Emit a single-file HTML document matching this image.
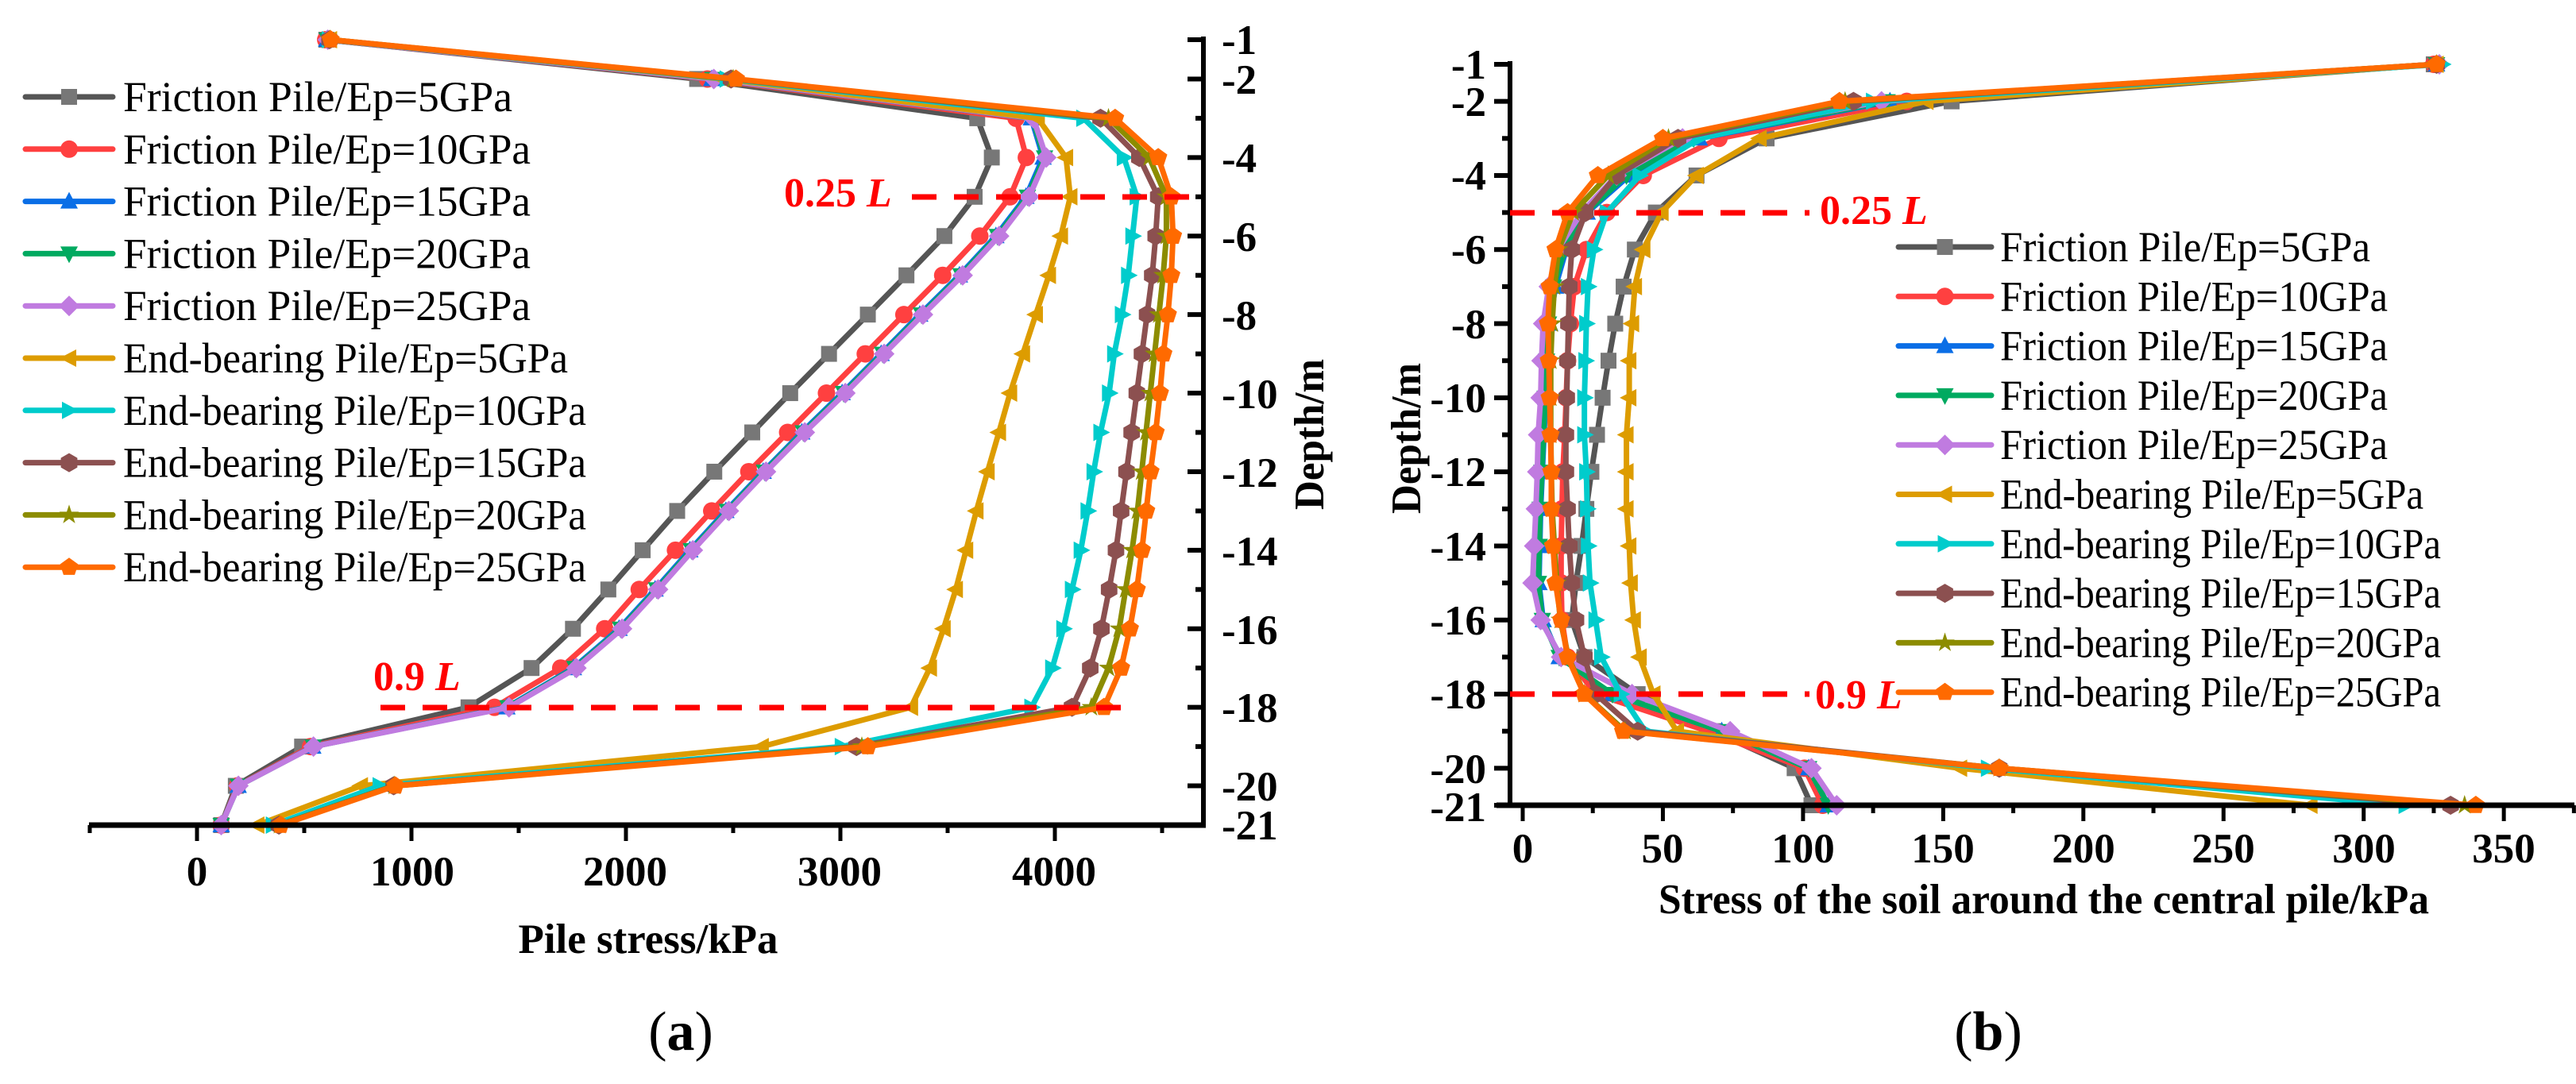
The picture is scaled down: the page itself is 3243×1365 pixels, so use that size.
<!DOCTYPE html>
<html><head><meta charset="utf-8"><style>
html,body{margin:0;padding:0;background:#fff;}
svg, svg text, svg tspan{font-family:"Liberation Serif","Times New Roman","DejaVu Serif",serif !important;}
</style></head><body>
<svg id="s" width="3243" height="1360" viewBox="0 0 3243 1360" xmlns="http://www.w3.org/2000/svg" font-family="Liberation Serif, Times New Roman, serif">
<rect width="3243" height="1360" fill="#fff"/>
<g id="g"></g>
<line x1="112" y1="1039" x2="1518" y2="1039" stroke="#000" stroke-width="7"/>
<line x1="1515" y1="46" x2="1515" y2="1042" stroke="#000" stroke-width="6"/>
<line x1="1884" y1="1014" x2="3241" y2="1014" stroke="#000" stroke-width="7"/>
<line x1="1901" y1="77" x2="1901" y2="1017" stroke="#000" stroke-width="6"/>
<g font-weight="bold" font-size="53" fill="#000" font-family="Liberation Serif, serif">
<text x="1538" y="68">-1</text><text x="1538" y="118">-2</text>
<text x="1538" y="217">-4</text><text x="1538" y="316">-6</text><text x="1538" y="415">-8</text>
<text x="1538" y="514">-10</text><text x="1538" y="613">-12</text><text x="1538" y="712">-14</text>
<text x="1538" y="811">-16</text><text x="1538" y="909">-18</text><text x="1538" y="1008">-20</text>
<text x="1538" y="1057">-21</text>
<g text-anchor="middle">
<text x="248" y="1115">0</text><text x="519" y="1115">1000</text><text x="787" y="1115">2000</text>
<text x="1057" y="1115">3000</text><text x="1327" y="1115">4000</text>
<text x="816" y="1200" textLength="327" lengthAdjust="spacingAndGlyphs">Pile stress/kPa</text>
<text transform="translate(1666,547) rotate(-90)" textLength="190" lengthAdjust="spacingAndGlyphs">Depth/m</text>
<text transform="translate(1788,552) rotate(-90)" textLength="190" lengthAdjust="spacingAndGlyphs">Depth/m</text>
<text x="1917" y="1086">0</text><text x="2093" y="1086">50</text><text x="2270" y="1086">100</text>
<text x="2446" y="1086">150</text><text x="2623" y="1086">200</text><text x="2799" y="1086">250</text>
<text x="2976" y="1086">300</text><text x="3152" y="1086">350</text>
<text x="2573" y="1150" textLength="970" lengthAdjust="spacingAndGlyphs">Stress of the soil around the central pile/kPa</text>
</g>
<g text-anchor="end">
<text x="1871" y="99">-1</text><text x="1871" y="146">-2</text><text x="1871" y="239">-4</text>
<text x="1871" y="332">-6</text><text x="1871" y="426">-8</text><text x="1871" y="519">-10</text>
<text x="1871" y="612">-12</text><text x="1871" y="706">-14</text><text x="1871" y="799">-16</text>
<text x="1871" y="892">-18</text><text x="1871" y="986">-20</text><text x="1871" y="1034">-21</text>
</g>
</g>
<text x="857" y="1322" font-size="70" text-anchor="middle" font-family="Liberation Serif, serif">(<tspan font-weight="bold">a</tspan>)</text>
<text x="2503" y="1322" font-size="70" text-anchor="middle" font-family="Liberation Serif, serif">(<tspan font-weight="bold">b</tspan>)</text>
<g stroke="#f00" stroke-width="7" stroke-dasharray="31 22">
<line x1="1148" y1="248" x2="1515" y2="248"/>
<line x1="479" y1="891" x2="1419" y2="891"/>
<line x1="1901" y1="268" x2="2278" y2="268"/>
<line x1="1901" y1="874" x2="2278" y2="874"/>
</g>
<g fill="#f00" font-weight="bold" font-size="52" font-family="Liberation Serif, serif">
<text x="987" y="260">0.25 <tspan font-style="italic">L</tspan></text>
<text x="470" y="869">0.9 <tspan font-style="italic">L</tspan></text>
<text x="2291" y="282">0.25 <tspan font-style="italic">L</tspan></text>
<text x="2285" y="892">0.9 <tspan font-style="italic">L</tspan></text>
</g>
<g id="leg" font-size="54" font-family="Liberation Serif, serif"></g>
</svg>
<script>
var NS="http://www.w3.org/2000/svg";
function el(p,t,a){var e=document.createElementNS(NS,t);for(var k in a)e.setAttribute(k,a[k]);p.appendChild(e);return e;}
var svg=document.getElementById('s'), G=document.getElementById('g');
for(var k=1;k<=21;k++){var y=50+(k-1)*49.45;var maj=(k==1||k==21||k%2==0);el(svg,'line',{x1:1515-(maj?20:10),y1:y,x2:1515,y2:y,stroke:'#000','stroke-width':6});}
for(var v=-500;v<=4500;v+=500){var x=248+v*0.270;var maj=(v%1000==0);el(svg,'line',{x1:x,y1:1039,x2:x,y2:1039+(maj?20:10),stroke:'#000','stroke-width':5});}
for(var k=1;k<=21;k++){var y=81+(k-1)*46.65;var maj=(k==1||k==21||k%2==0);el(svg,'line',{x1:1901-(maj?20:10),y1:y,x2:1901,y2:y,stroke:'#000','stroke-width':6});}
for(var v=0;v<=375;v+=25){var x=1917+v*3.529;var maj=(v%50==0);el(svg,'line',{x1:x,y1:1014,x2:x,y2:1014+(maj?20:10),stroke:'#000','stroke-width':5});}

var S=[
 {n:"Friction Pile/Ep=5GPa",c:"#555",mc:"#777",m:"sq"},
 {n:"Friction Pile/Ep=10GPa",c:"#ff4040",m:"ci"},
 {n:"Friction Pile/Ep=15GPa",c:"#0a6ee6",m:"tu"},
 {n:"Friction Pile/Ep=20GPa",c:"#00aa60",m:"td"},
 {n:"Friction Pile/Ep=25GPa",c:"#c07be0",m:"di"},
 {n:"End-bearing Pile/Ep=5GPa",c:"#dd9c00",m:"tl"},
 {n:"End-bearing Pile/Ep=10GPa",c:"#00cccc",m:"tr"},
 {n:"End-bearing Pile/Ep=15GPa",c:"#8c5050",m:"hx"},
 {n:"End-bearing Pile/Ep=20GPa",c:"#8c8c00",m:"st"},
 {n:"End-bearing Pile/Ep=25GPa",c:"#ff6a00",m:"pe"}];
var A=[
[603,2332,3638,3706,3626,3485,3308,3128,2947,2766,2589,2412,2239,2078,1918,1753,1560,1266,490,181,113],
[600,2380,3819,3867,3791,3650,3477,3296,3116,2935,2754,2573,2400,2231,2062,1901,1696,1387,530,189,113],
[605,2400,3890,3945,3865,3725,3555,3370,3190,3008,2820,2640,2466,2298,2136,1968,1755,1445,540,192,113],
[608,2405,3895,3952,3872,3732,3562,3378,3197,3015,2827,2646,2473,2305,2143,1975,1762,1450,542,193,113],
[610,2410,3900,3960,3880,3740,3570,3385,3204,3023,2834,2653,2480,2312,2150,1982,1769,1455,543,193,113],
[620,2450,3920,4052,4072,4028,3972,3911,3851,3791,3739,3686,3634,3586,3538,3481,3417,3329,2633,764,281],
[615,2470,4133,4322,4382,4362,4342,4313,4277,4253,4213,4181,4153,4121,4080,4040,3988,3891,3007,852,354],
[618,2490,4213,4394,4482,4470,4454,4430,4406,4382,4358,4334,4309,4285,4253,4217,4165,4080,3075,917,382],
[620,2500,4250,4440,4520,4520,4505,4485,4465,4445,4425,4405,4385,4360,4330,4300,4250,4170,3100,920,385],
[623,2513,4281,4482,4543,4551,4543,4527,4506,4490,4470,4446,4426,4406,4382,4350,4309,4229,3128,925,390]];
var B=[
[325,153,87,62,47.5,40,36,33,30.6,28.5,26.5,24.5,22.7,21,19,17.5,22,41,68,97,103],
[325,137,70,43,30,22.7,18.4,17,16,15.5,15,14.3,14,13.7,13.7,14,16,26,66,100.5,107],
[326,131,63,38,23,15.5,11.7,9.6,8.7,8.2,7.6,7,6.4,6.1,5.8,7.3,13,32,71,102,109],
[326,130,61,37,22.5,15,11,9.2,8.5,8,7.4,6.8,6.2,5.9,5.6,7,13,32,71,102,109],
[327,128,57,33.5,21,12.5,9.3,7.3,6.7,6.4,5.5,5.2,4.7,4.1,3.5,6.4,13.7,39,74,103,112],
[326,144,84.5,62,49.5,43,40,39,38,38,37,37,37,38,38.5,39.6,41.7,46.6,55,156,281],
[328,125,63,41.7,30,25.4,23.3,22.7,22.4,22,22,22.7,23,23.3,24,26,28,35,43.7,166,315],
[326,118,55.4,33.5,22.4,17.5,16.6,16.3,16,15.7,15.4,15.4,16,16.6,17.5,19,22,26,41,170,331],
[326,115,52,30.5,18,12.8,11.3,10.5,10,10,10,10.2,10.5,11.3,12.2,13.4,16.3,22,36.5,170,336],
[326,113,50,26.8,16,11.7,9.6,9,9.3,9.6,9.9,10.2,10.2,10.8,11.7,13.7,16,21.9,35.8,170,340]];

function marker(p,t,x,y,c){
 var r=10;
 if(t=="sq"){el(p,'rect',{x:x-r,y:y-r,width:2*r,height:2*r,fill:c});return;}
 if(t=="ci"){el(p,'circle',{cx:x,cy:y,r:r+1,fill:c});return;}
 function poly(a){el(p,'polygon',{points:a.map(function(q){return (x+q[0])+','+(y+q[1]);}).join(' '),fill:c});}
 if(t=="tu")return poly([[0,-12],[11,9],[-11,9]]);
 if(t=="td")return poly([[0,12],[11,-9],[-11,-9]]);
 if(t=="tl")return poly([[-12,0],[9,-11],[9,11]]);
 if(t=="tr")return poly([[12,0],[-9,-11],[-9,11]]);
 if(t=="di")return poly([[0,-13],[13,0],[0,13],[-13,0]]);
 var out=[];
 if(t=="hx"){for(var i=0;i<6;i++){var a=Math.PI/3*i+Math.PI/6;out.push([12*Math.cos(a),12*Math.sin(a)]);}return poly(out);}
 if(t=="pe"){for(var i=0;i<5;i++){var a=-Math.PI/2+2*Math.PI/5*i;out.push([12*Math.cos(a),12*Math.sin(a)]);}return poly(out);}
 if(t=="st"){for(var i=0;i<10;i++){var a=-Math.PI/2+Math.PI/5*i;var R=i%2?5:13;out.push([R*Math.cos(a),R*Math.sin(a)]);}return poly(out);}
}
function draw(data,fx,fy){
 for(var s=0;s<S.length;s++){
  var d=data[s],pts=[];
  for(var k=0;k<21;k++)pts.push([fx(d[k]),fy(k+1)]);
  el(G,'polyline',{points:pts.map(function(q){return q.join(',');}).join(' '),fill:'none',stroke:S[s].c,'stroke-width':7,'stroke-linejoin':'round'});
  for(var k=0;k<21;k++)marker(G,S[s].m,pts[k][0],pts[k][1],S[s].mc||S[s].c);
 }
}
draw(A,function(v){return 248+v*0.270;},function(k){return 50+(k-1)*49.45;});
draw(B,function(v){return 1917+v*3.529;},function(k){return 81+(k-1)*46.65;});
var L=document.getElementById('leg');
function legend(x0,x1,tx,y0,dy,w5){
 for(var s=0;s<S.length;s++){var y=y0+s*dy;
  el(L,'line',{x1:x0,y1:y,x2:x1,y2:y,stroke:S[s].c,'stroke-width':7,'stroke-linecap':'round'});
  marker(L,S[s].m,(x0+x1)/2,y,S[s].mc||S[s].c);
  var t=el(L,'text',{x:tx,y:y+18,'font-family':'Liberation Serif, serif'});t.textContent=S[s].n;
  var len=S[s].n.length; t.setAttribute('textLength',(w5*(len/21)).toFixed(0)); t.setAttribute('lengthAdjust','spacingAndGlyphs');
 }
}
legend(32,142,155,122,65.8,490);
legend(2390,2507,2518,311,62.3,466);
</script>
</body></html>
